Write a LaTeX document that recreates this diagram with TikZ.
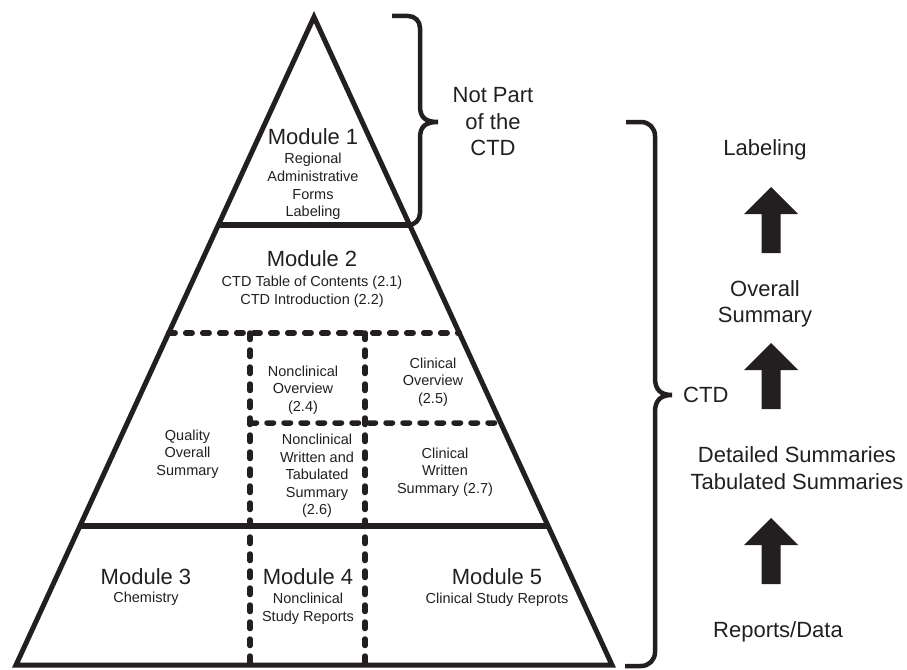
\documentclass[tikz,border=0pt]{standalone}
\usepackage{fontspec}
\setmainfont{Liberation Sans}
\usetikzlibrary{calc}
\definecolor{ink}{RGB}{35,31,32}
\begin{document}
\begin{tikzpicture}[x=1pt,y=-1pt,
  outline/.style={draw=ink,line width=5pt,line join=miter},
  divider/.style={draw=ink,line width=5.5pt},
  dashdiv/.style={draw=ink,line width=5.5pt,line cap=round,dash pattern=on 6.5pt off 10.5pt},
  bracket/.style={draw=ink,line width=4.5pt},
  title/.style={text=ink,inner sep=0pt,font=\fontsize{22}{26.5}\selectfont,align=center},
  detail/.style={text=ink,inner sep=0pt,font=\fontsize{14.5}{17.6}\selectfont,align=center},
  uparrow/.pic={\fill[ink] (0,0) -- (27,27) -- (9.5,27) -- (9.5,66) -- (-9.5,66) -- (-9.5,27) -- (-27,27) -- cycle;}
]
\useasboundingbox (0,0) rectangle (907,669);

% pyramid corners
\coordinate (A) at (314,17);
\coordinate (BL) at (16,665);
\coordinate (BR) at (612,665);

% points on the slanted sides
\coordinate (m1L) at ($(A)!{(225-17)/648}!(BL)$);
\coordinate (m1R) at ($(A)!{(225-17)/648}!(BR)$);
\coordinate (d1L) at ($(A)!{(333-17)/648}!(BL)$);
\coordinate (d1R) at ($(A)!{(333-17)/648}!(BR)$);
\coordinate (d2R) at ($(A)!{(423-17)/648}!(BR)$);
\coordinate (d2L) at (250,423);
\coordinate (m3L) at ($(A)!{(526-17)/648}!(BL)$);
\coordinate (m3R) at ($(A)!{(526-17)/648}!(BR)$);

% column dividers
\coordinate (v1t) at (250,333);
\coordinate (v1b) at (250,665);
\coordinate (v2t) at (365,333);
\coordinate (v2b) at (365,665);

\draw[dashdiv] (d1L) -- (d1R);
\draw[dashdiv] (d2L) -- (d2R);
\draw[dashdiv] (v1t) -- (v1b);
\draw[dashdiv] (v2t) -- (v2b);

\draw[divider] (m1L) -- (m1R);
\draw[divider] (m3L) -- (m3R);
\draw[outline] (BL) -- (A) -- (BR) -- cycle;

% braces
\draw[bracket] (392,16) -- (408,16) .. controls (415,16) and (420,21) .. (420,28)
  -- (420,106) .. controls (420,118) and (426,122) .. (438,122)
  .. controls (426,122) and (420,126) .. (420,138)
  -- (420,213) .. controls (420,220) and (415,225) .. (408,225);
\draw[bracket] (626,122) -- (641,122) .. controls (649,122) and (655,128) .. (655,136)
  -- (655,378) .. controls (655,390) and (661,395) .. (672,395)
  .. controls (661,395) and (655,400) .. (655,412)
  -- (655,652) .. controls (655,660) and (649,666) .. (641,666) -- (625,666);

% pyramid texts
\node[title] (m1) at (313,137) {Module 1};
\node[detail] (m1d) at (313,186.5) {Regional\\Administrative\\Forms\\Labeling};
\node[title] (m2) at (312,259) {Module 2};
\node[detail] (m2d) at (312,292) {CTD Table of Contents (2.1)\\CTD Introduction (2.2)};
\node[detail] (qos) at (187.5,454) {Quality\\Overall\\Summary};
\node[detail] (nco) at (303,390) {Nonclinical\\Overview\\(2.4)};
\node[detail] (cov) at (433,382) {Clinical\\Overview\\(2.5)};
\node[detail] (ncw) at (317,476) {Nonclinical\\Written and\\Tabulated\\Summary\\(2.6)};
\node[detail] (cws) at (445,472) {Clinical\\Written\\Summary (2.7)};
\node[title] (m3) at (146,577) {Module 3};
\node[detail] (m3d) at (146,599) {Chemistry};
\node[title] (m4) at (308,577) {Module 4};
\node[detail] (m4d) at (308,609) {Nonclinical\\Study Reports};
\node[title] (m5) at (497,577) {Module 5};
\node[detail] (m5d) at (497,600) {Clinical Study Reprots};

% brace labels
\node[title] (np) at (493,122) {Not Part\\of the\\CTD};
\node[title,anchor=west] (ctd) at (683,395) {CTD};

% hierarchy column
\node[title] (lab) at (765,150) {Labeling};
\node[title] (ovs) at (765,304) {Overall\\Summary};
\node[title] (det) at (797,468) {Detailed Summaries\\Tabulated Summaries};
\node[title] (rep) at (778,632) {Reports/Data};
\pic at (771,187) {uparrow};
\pic at (771,343) {uparrow};
\pic at (771,518) {uparrow};
\end{tikzpicture}
\end{document}
